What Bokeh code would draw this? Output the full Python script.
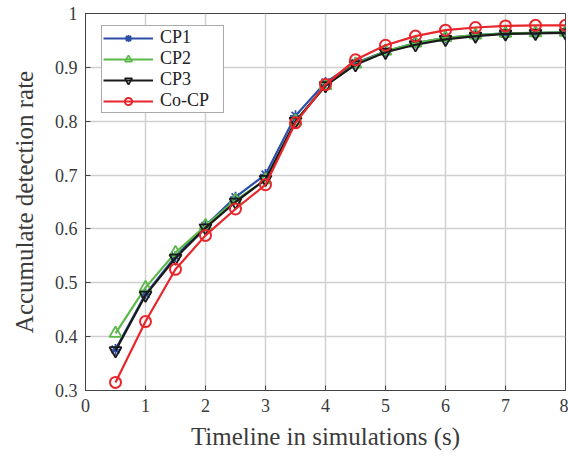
from bokeh.plotting import figure
from bokeh.models import Range1d, FixedTicker, Legend, LegendItem
from bokeh.embed import file_html
from bokeh.resources import INLINE

time_s = [0.5, 1, 1.5, 2, 2.5, 3, 3.5, 4, 4.5, 5, 5.5, 6, 6.5, 7, 7.5, 8]
cp1 = [0.376, 0.479, 0.549, 0.606, 0.659, 0.701, 0.810, 0.872, 0.908, 0.930, 0.945, 0.955, 0.960, 0.963, 0.964, 0.965]
cp2 = [0.406, 0.491, 0.556, 0.606, 0.653, 0.691, 0.800, 0.866, 0.906, 0.930, 0.945, 0.955, 0.960, 0.963, 0.964, 0.965]
cp3 = [0.374, 0.477, 0.546, 0.602, 0.650, 0.692, 0.800, 0.866, 0.905, 0.928, 0.942, 0.952, 0.958, 0.962, 0.963, 0.964]
cocp = [0.315, 0.428, 0.525, 0.588, 0.637, 0.682, 0.797, 0.868, 0.914, 0.941, 0.958, 0.969, 0.974, 0.977, 0.978, 0.978]

x_ticks = [0, 1, 2, 3, 4, 5, 6, 7, 8]
y_ticks = [0.3, 0.4, 0.5, 0.6, 0.7, 0.8, 0.9, 1.0]

FONT = "Liberation Serif"
TXT = "#3a3a3a"

p = figure(width=568, height=456, output_backend="svg", toolbar_location=None,
           x_range=Range1d(0, 8), y_range=Range1d(0.3, 1.0),
           min_border_left=85, min_border_right=3, min_border_top=13, min_border_bottom=66)

p.outline_line_color = "#444444"
p.outline_line_width = 1
p.background_fill_color = "white"

for ax in [p.xaxis[0], p.yaxis[0]]:
    ax.major_tick_in = 5
    ax.major_tick_out = 0
    ax.minor_tick_line_color = None
    ax.axis_line_color = "#444444"
    ax.major_tick_line_color = "#444444"
    ax.major_label_text_font = FONT
    ax.major_label_text_font_size = "18px"
    ax.major_label_text_color = TXT
    ax.axis_label_text_font = FONT
    ax.axis_label_text_font_size = "25px"
    ax.axis_label_text_font_style = "normal"
    ax.axis_label_text_color = TXT

p.xaxis[0].ticker = FixedTicker(ticks=x_ticks)
p.yaxis[0].ticker = FixedTicker(ticks=y_ticks)
p.xaxis[0].axis_label = "Timeline in simulations (s)"
p.yaxis[0].axis_label = "Accumulate detection rate"
p.xaxis[0].major_label_standoff = 8
p.yaxis[0].major_label_standoff = 8
p.xaxis[0].axis_label_standoff = 8
p.yaxis[0].axis_label_standoff = 14
p.yaxis[0].major_label_overrides = {1.0: "1"}

p.xgrid.ticker = FixedTicker(ticks=x_ticks)
p.ygrid.ticker = FixedTicker(ticks=y_ticks)
p.grid.grid_line_color = "#d0d0d0"
p.grid.grid_line_width = 1.5

BLUE = "#2c4ea6"
GREEN = "#5cb84a"
BLACK = "#1a1a1a"
RED = "#e8262b"

l1 = p.line(time_s, cp1, color=BLUE, line_width=2.2)
m1 = p.scatter(time_s, cp1, marker="asterisk", size=11, line_color=BLUE, line_width=1.8)
l2 = p.line(time_s, cp2, color=GREEN, line_width=2.2)
m2 = p.scatter(time_s, cp2, marker="triangle", size=12, line_color=GREEN, fill_color=None, line_width=1.8)
l3 = p.line(time_s, cp3, color=BLACK, line_width=2.2)
m3 = p.scatter(time_s, cp3, marker="inverted_triangle", size=12, line_color=BLACK, fill_color=None, line_width=1.8)
l4 = p.line(time_s, cocp, color=RED, line_width=2.2)
m4 = p.scatter(time_s, cocp, marker="circle", size=11, line_color=RED, fill_color=None, line_width=2)

legend = Legend(items=[
    LegendItem(label="CP1", renderers=[l1, m1]),
    LegendItem(label="CP2", renderers=[l2, m2]),
    LegendItem(label="CP3", renderers=[l3, m3]),
    LegendItem(label="Co-CP", renderers=[l4, m4]),
], location=(16, 277))
legend.padding = 1
legend.spacing = 0
legend.glyph_width = 50
legend.glyph_height = 18
legend.label_height = 18
legend.label_width = 62
legend.label_standoff = 7
legend.label_text_font = FONT
legend.label_text_font_size = "18px"
legend.label_text_color = "#222222"
legend.border_line_color = "#555555"
legend.border_line_width = 1
legend.background_fill_alpha = 1
p.add_layout(legend)

open("out.html", "w").write(file_html(p, INLINE))
